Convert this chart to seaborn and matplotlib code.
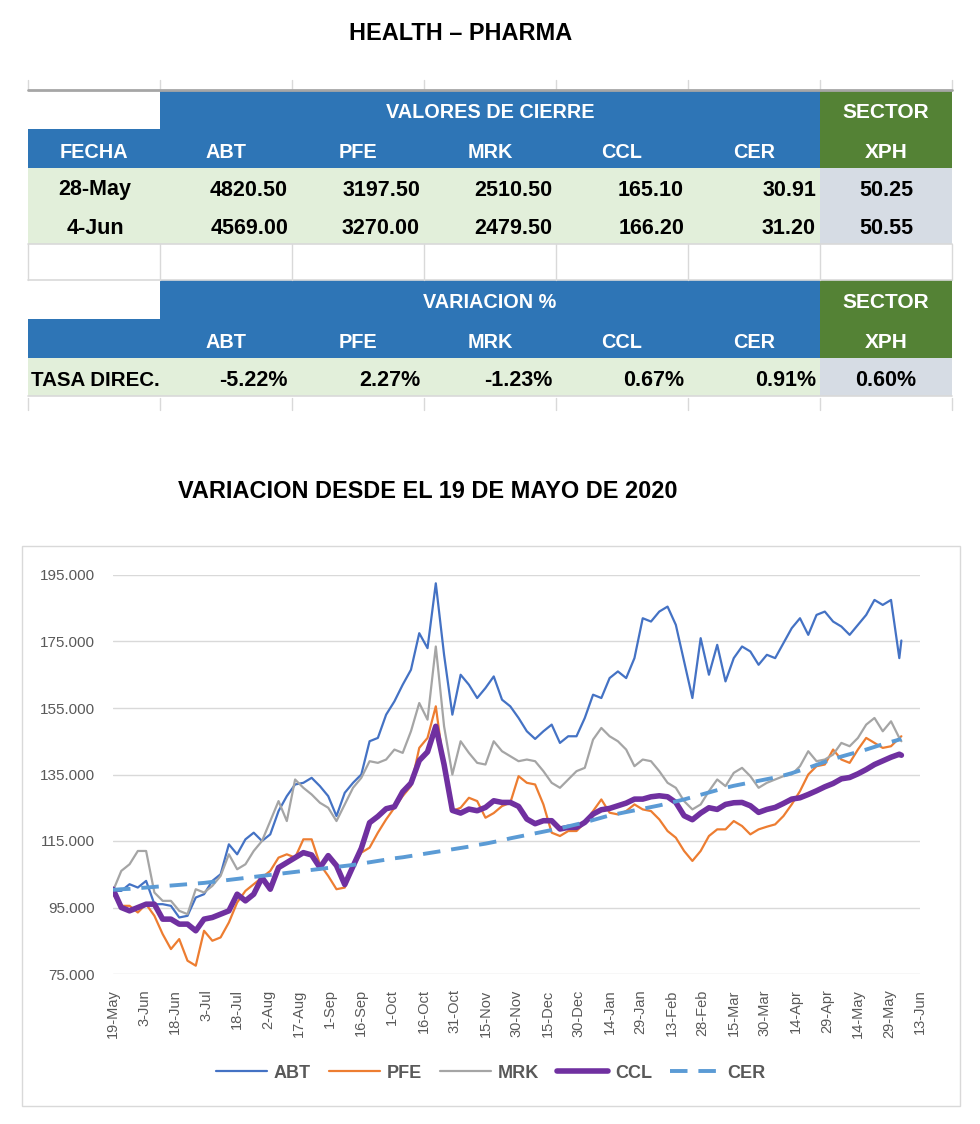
import matplotlib
matplotlib.use("Agg")
import matplotlib.pyplot as plt
from matplotlib.ticker import FuncFormatter
from matplotlib.patches import Rectangle
from matplotlib.lines import Line2D
import pandas as pd
import seaborn as sns

sns.set_theme(style="white")
plt.rcParams["font.family"] = ["Liberation Sans", "DejaVu Sans"]

# ---------------- data ----------------
TITLE = "HEALTH – PHARMA"
CHART_TITLE = "VARIACION DESDE EL 19 DE MAYO DE 2020"
tickers = ["ABT", "PFE", "MRK", "CCL", "CER"]
table_dates = ["28-May", "4-Jun"]
close_28may = [4820.50, 3197.50, 2510.50, 165.10, 30.91]
close_4jun = [4569.00, 3270.00, 2479.50, 166.20, 31.20]
xph_close = [50.25, 50.55]
var_pct = [-5.22, 2.27, -1.23, 0.67, 0.91]
xph_var = 0.60

start_date = "2020-05-19"
day_offsets = list(range(0, 381, 4)) + [381]

abt = [100, 100, 102, 101, 103, 96, 96, 95.5, 92, 92.5,
       98, 99, 103, 105, 114, 111, 115.5, 117.5, 115, 117,
       124, 128.5, 132, 132.5, 134, 131.5, 128.5, 122.5, 129.5, 132.5,
       135, 145, 146, 153, 157, 162, 166.5, 177.5, 173, 192.5,
       171, 153, 165, 162, 158, 161, 164.5, 157.5, 155.5, 152,
       148, 145.7, 148, 150, 144.5, 146.5, 146.5, 152, 159, 158,
       164, 166, 164, 170, 182, 181, 184, 185.5, 180, 169,
       158, 176, 165, 174, 163, 170, 173.5, 172, 168, 171,
       170, 174.5, 179, 182, 177, 183, 184, 181, 179.5, 177,
       180, 183, 187.5, 186, 187.5, 170,
       175.3]
pfe = [99, 95.5, 95.5, 93.5, 96, 92.5, 87, 82.5, 85.5, 79,
       77.5, 88, 85, 86, 90.5, 96.5, 100, 102, 104, 106,
       110, 111, 110, 115.5, 115.5, 108, 104.5, 100.5, 101, 107,
       111.5, 113, 117.5, 121.5, 125, 128.5, 131.5, 143, 146, 155.5,
       137, 124, 125, 128, 127, 122, 123.4, 125.5, 126.5, 134.5,
       132.5, 132, 126, 117.5, 116.5, 118, 118, 120.5, 124, 127.5,
       123.5, 123, 124, 126, 124.5, 124, 121.5, 118, 116, 112,
       109, 112, 116.5, 118.5, 118.5, 121, 119.5, 117, 118.5, 119.3,
       120, 122.5, 126, 130, 135, 137.5, 138, 142.5, 139.5, 138.5,
       142.5, 146, 144.5, 143, 143.5, 146,
       146.5]
mrk = [100, 106, 108, 112, 112, 99.5, 97, 97, 94, 93,
       100.5, 99.5, 101.5, 104.5, 111, 106.5, 108, 112, 115, 121,
       127, 121, 133.5, 131, 129, 126.5, 125, 121, 126, 131,
       134, 139, 138.5, 139.5, 142.5, 141.5, 148, 156.5, 151.5, 173.5,
       149.5, 135, 145, 141.5, 138.5, 138, 145, 142, 140.5, 139,
       139.5, 139, 136, 132.5, 131, 133.5, 136, 137, 145.5, 149,
       146.5, 145, 142.5, 137.5, 139.5, 139, 136, 132.5, 131, 127,
       124.5, 126, 130, 133.5, 131.5, 135.5, 137, 134.5, 131, 132.5,
       133.5, 134.5, 135, 137.5, 142, 139, 139.5, 141, 144.5, 143.5,
       146, 150, 152, 148, 151, 146,
       145]
ccl = [100.5, 95, 94, 95, 96, 96, 91.5, 91.5, 90, 90,
       88, 91.5, 92, 93, 94, 99, 97, 99, 104, 100.5,
       107, 108.5, 110, 111.5, 110.8, 107, 110.6, 107.6, 101.9, 107.4,
       112.8, 120.5, 122.4, 124.7, 125.3, 129.8, 132.4, 139.2, 141.8, 149.5,
       138, 124.2, 123.4, 124.6, 124.1, 125.1, 127.1, 126.6, 126.6, 125.4,
       121.6, 120.2, 121.1, 121.1, 118.6, 119.1, 119.1, 120.6, 123.1, 124.4,
       124.8, 125.6, 126.4, 127.6, 127.6, 128.3, 128.6, 128.3, 126.6, 122.6,
       121.4, 123.4, 125, 124.5, 126, 126.5, 126.6, 125.6, 123.6, 124.5,
       125.1, 126.3, 127.6, 128, 129, 130.1, 131.3, 132.3, 133.7, 134.1,
       135.2, 136.5, 138, 139.1, 140.2, 141.1,
       140.8]
cer = [100.3, 100.5, 100.6, 100.8, 101, 101.2, 101.4, 101.6, 101.8, 102,
       102.2, 102.4, 102.7, 103, 103.3, 103.6, 103.9, 104.2, 104.5, 104.8,
       105.1, 105.4, 105.7, 106, 106.3, 106.6, 106.9, 107.2, 107.5, 107.8,
       108.2, 108.6, 109, 109.4, 109.8, 110.1, 110.5, 110.9, 111.3, 111.7,
       112.1, 112.5, 112.9, 113.3, 113.8, 114.2, 114.7, 115.2, 115.8, 116.3,
       116.8, 117.3, 117.8, 118.3, 118.8, 119.4, 120, 120.6, 121.3, 122,
       122.7, 123.2, 123.7, 124.2, 124.7, 125.2, 125.7, 126.3, 126.9, 127.5,
       128.2, 128.9, 129.6, 130.3, 131, 131.6, 132.1, 132.6, 133.1, 133.6,
       134.1, 134.7, 135.4, 136.2, 137, 137.9, 138.8, 139.6, 140.4, 141.1,
       141.8, 142.5, 143.3, 144.1, 144.8, 145.5,
       145.7]

y_ticks = [75, 95, 115, 135, 155, 175, 195]
x_tick_dates = pd.date_range("2020-05-19", "2021-06-13", freq="15D")

# ---------------- styles ----------------
BLUE_HDR = "#2E75B6"
GREEN_HDR = "#548235"
LIGHT_GREEN = "#E2EFDA"
XPH_CELL = "#D6DCE4"
TFONT = ["Liberation Sans", "DejaVu Sans"]
HDR_SIZE = 14.3
DATA_SIZE = 15.5
series_style = {
    "ABT": dict(color="#4472C4", lw=1.6, ls="-"),
    "PFE": dict(color="#ED7D31", lw=1.6, ls="-"),
    "MRK": dict(color="#A5A5A5", lw=1.6, ls="-"),
    "CCL": dict(color="#7030A0", lw=4.0, ls="-"),
    "CER": dict(color="#5B9BD5", lw=2.8, ls=(0, (4.5, 2.8))),
}

dates = pd.Timestamp(start_date) + pd.to_timedelta(day_offsets, unit="D")
df = pd.DataFrame({"fecha": dates, "ABT": abt, "PFE": pfe, "MRK": mrk,
                   "CCL": ccl, "CER": cer})

fig = plt.figure(figsize=(9.8, 11.24), dpi=100)

# ---------------- background / table layer (pixel coordinates) -------------
bg = fig.add_axes([0, 0, 1, 1])
bg.set_xlim(0, 980)
bg.set_ylim(1124, 0)
bg.axis("off")

cols = [28, 160, 292, 424, 556, 688, 820, 952]
grid_c = "#D9D9D9"

def rect(x0, y0, x1, y1, fc, ec="none", lw=0):
    bg.add_patch(Rectangle((x0, y0), x1 - x0, y1 - y0, fc=fc, ec=ec, lw=lw))

def txt(x, y, s, color="black", ha="center", size=HDR_SIZE):
    bg.text(x, y, s, ha=ha, va="center", fontsize=size, fontweight="bold",
            fontfamily=TFONT, color=color)

bg.text(461, 33, TITLE, ha="center", va="center", fontsize=16.9,
        fontweight="bold", fontfamily=TFONT, color="black")

# spreadsheet gridlines peeking around the table
for x in cols:
    bg.plot([x, x], [80, 90], color=grid_c, lw=1)
    bg.plot([x, x], [244, 280], color=grid_c, lw=1)
    bg.plot([x, x], [398, 410], color=grid_c, lw=1)

def block(y0, title, first_col_label, rows):
    h1, h2 = y0 + 39, y0 + 78
    rect(28, y0, 160, h1, "white")
    rect(160, y0, 820, h1, BLUE_HDR)
    rect(28, h1, 820, h2, BLUE_HDR)
    rect(820, y0, 952, h2, GREEN_HDR)
    txt(490, y0 + 23, title, "white")
    txt(886, y0 + 23, "SECTOR", "white", size=HDR_SIZE + 0.7)
    txt(886, h1 + 24, "XPH", "white", size=HDR_SIZE + 0.7)
    if first_col_label:
        txt(94, h1 + 24, first_col_label, "white")
    for i, t in enumerate(tickers):
        txt((cols[i + 1] + cols[i + 2]) / 2, h1 + 24, t, "white")
    y = h2
    for label, vals, xv in rows:
        rect(28, y, 820, y + 38, LIGHT_GREEN)
        rect(820, y, 952, y + 38, XPH_CELL)
        txt(95, y + 22, label, size=DATA_SIZE if len(label) < 8 else 14.8)
        for i, v in enumerate(vals):
            txt(cols[i + 2] - 4, y + 22, v, ha="right", size=DATA_SIZE)
        txt(886, y + 22, xv, size=DATA_SIZE)
        y += 38
    bg.plot([28, 952], [y, y], color=grid_c, lw=1.2)
    return y

bg.plot([28, 952], [90, 90], color="#A6A6A6", lw=2)
block(90, "VALORES DE CIERRE", "FECHA", [
    (table_dates[0], [f"{v:.2f}" for v in close_28may], f"{xph_close[0]:.2f}"),
    (table_dates[1], [f"{v:.2f}" for v in close_4jun], f"{xph_close[1]:.2f}"),
])
bg.plot([28, 952], [280, 280], color=grid_c, lw=1.2)
block(280, "VARIACION %", None, [
    ("TASA DIREC.", [f"{v:.2f}%" for v in var_pct], f"{xph_var:.2f}%"),
])

# chart title and chart area border
bg.text(428, 492, CHART_TITLE, ha="center", va="center", fontsize=16.9,
        fontweight="bold", fontfamily=TFONT, color="black")
bg.add_patch(Rectangle((22, 546), 938, 560, fill=False, ec=grid_c, lw=1))

# ---------------- line chart ----------------
ax = fig.add_axes([113 / 980, 1 - 974 / 1124, (920 - 113) / 980,
                   (974 - 575) / 1124])
ax.set_facecolor("none")
handles = []
for name in tickers:
    st = series_style[name]
    sns.lineplot(data=df, x="fecha", y=name, ax=ax, color=st["color"],
                 linewidth=st["lw"], legend=False)
    ln = ax.lines[-1]
    ln.set_linestyle(st["ls"])
    ln.set_solid_joinstyle("round")
    handles.append(Line2D([], [], color=st["color"], lw=st["lw"],
                          ls=st["ls"]))

ax.set_xlim(pd.Timestamp("2020-05-19"), pd.Timestamp("2021-06-13"))
ax.set_ylim(75, 195)
ax.set_yticks(y_ticks)
ax.yaxis.set_major_formatter(FuncFormatter(lambda v, p: f"{v:.3f}"))
ax.set_xticks(x_tick_dates)
ax.set_xticklabels([f"{d.day}-{d.strftime('%b')}" for d in x_tick_dates],
                   rotation=90)
ax.set_xlabel("")
ax.set_ylabel("")
ax.tick_params(axis="y", length=0, pad=13, labelsize=11, labelcolor="#595959")
ax.tick_params(axis="x", length=0, pad=11, labelsize=10.5, labelcolor="#595959")
ax.yaxis.grid(True, color=grid_c, lw=1)
ax.xaxis.grid(False)
ax.set_axisbelow(True)
for s in ax.spines.values():
    s.set_visible(False)

fig.legend(handles, tickers, loc="center",
           bbox_to_anchor=(491 / 980, 1 - 1073 / 1124), ncol=5,
           frameon=False, prop=dict(weight="bold", size=13),
           labelcolor="#595959", handlelength=2.8, handletextpad=0.4,
           columnspacing=1.0)

fig.savefig("out.png", dpi=100, facecolor="white")
